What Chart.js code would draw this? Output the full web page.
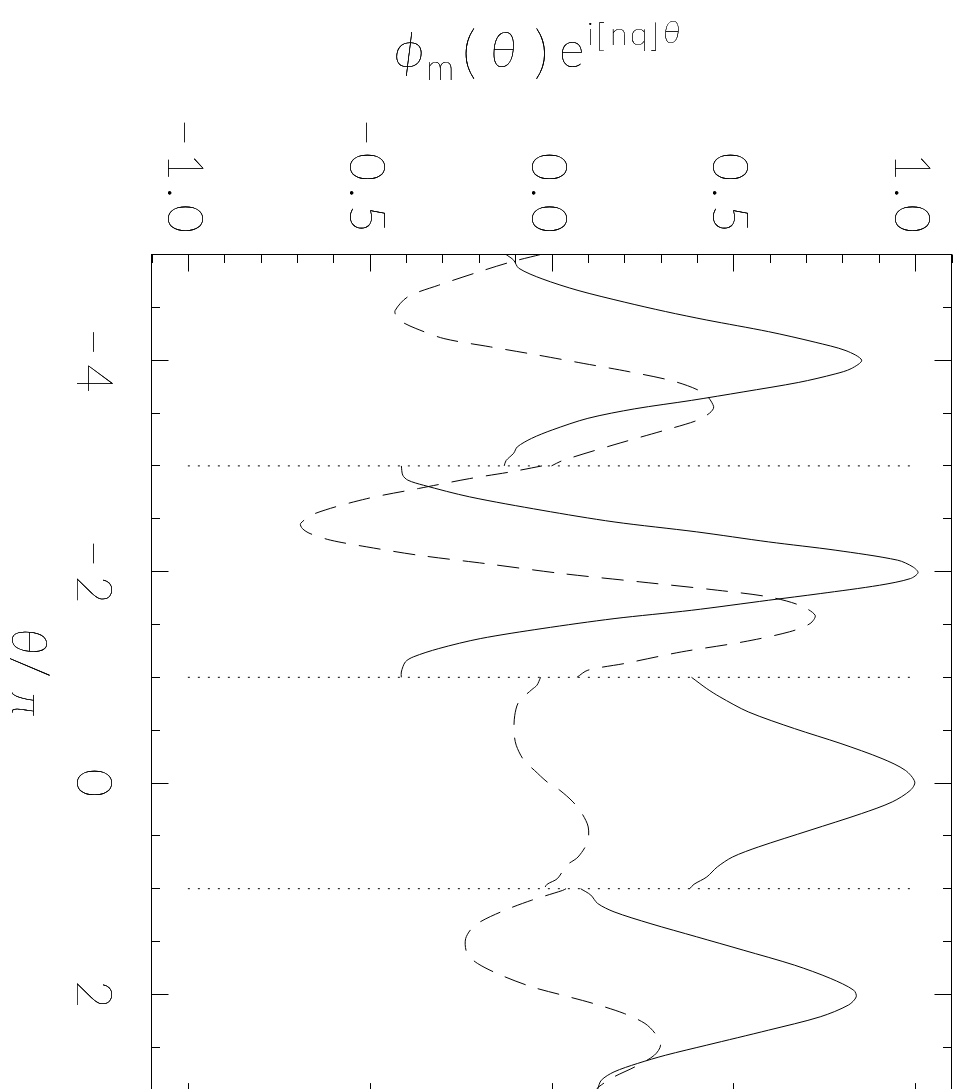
<!DOCTYPE html>
<html>
<head>
<meta charset="utf-8">
<script src="https://cdn.jsdelivr.net/npm/chart.js@4.4.1/dist/chart.umd.min.js"></script>
<style>
  html, body { margin: 0; padding: 0; overflow: hidden; background: #fff; width: 958px; height: 1089px; }
  #wrap { position: absolute; left: 0; top: 0; width: 958px; height: 1110px; }
  canvas { display: block; }
</style>
</head>
<body>
<div id="wrap"><canvas id="c" width="958" height="1110"></canvas></div>
<script>
// Eigenfunction phi_m(theta) * exp(i[nq]theta), four 2*pi sections along theta/pi.
// Each point is [theta/pi, value]. Solid = real part, dashed = imaginary part.
const realPart1 = [[-5.0,-0.125],[-4.946,-0.104],[-4.87,-0.09],[-4.77,-0.026],[-4.66,0.073],[-4.55,0.20],
  [-4.46,0.314],[-4.38,0.427],[-4.27,0.597],[-4.17,0.725],[-4.09,0.81],[-4.0,0.853],[-3.92,0.824],
  [-3.87,0.78],[-3.79,0.68],[-3.70,0.527],[-3.62,0.385],[-3.54,0.229],[-3.45,0.10],[-3.34,0.002],
  [-3.26,-0.055],[-3.18,-0.094],[-3.12,-0.104],[-3.05,-0.125],[-3.0,-0.13]];
const imagPart1 = [[-5.0,-0.03],[-4.93,-0.111],[-4.84,-0.196],[-4.71,-0.31],[-4.60,-0.395],[-4.47,-0.43],
  [-4.41,-0.426],[-4.36,-0.41],[-4.30,-0.373],[-4.205,-0.296],[-4.126,-0.168],[-4.05,-0.04],[-3.97,0.087],
  [-3.89,0.215],[-3.795,0.342],[-3.685,0.42],[-3.56,0.446],[-3.50,0.435],[-3.43,0.40],[-3.34,0.314],
  [-3.20,0.172],[-3.05,0.03],[-3.0,0.0]];

const realPart2 = [[-3.0,-0.413],[-2.912,-0.409],[-2.865,-0.395],[-2.817,-0.352],[-2.707,-0.225],[-2.58,-0.026],
  [-2.47,0.172],[-2.376,0.399],[-2.281,0.597],[-2.202,0.782],[-2.108,0.952],[-2.044,0.994],[-1.99,1.008],
  [-1.934,0.987],[-1.871,0.902],[-1.792,0.739],[-1.729,0.597],[-1.634,0.385],[-1.555,0.172],[-1.461,-0.026],
  [-1.366,-0.196],[-1.272,-0.31],[-1.193,-0.38],[-1.145,-0.402],[-1.05,-0.413],[-1.0,-0.413]];
const imagPart2 = [[-3.0,-0.026],[-2.944,-0.111],[-2.88,-0.225],[-2.786,-0.366],[-2.69,-0.508],[-2.55,-0.65],
  [-2.455,-0.69],[-2.407,-0.685],[-2.36,-0.664],[-2.297,-0.607],[-2.234,-0.508],[-2.155,-0.366],[-2.076,-0.182],
  [-1.981,0.03],[-1.903,0.243],[-1.824,0.456],[-1.761,0.597],[-1.682,0.682],[-1.587,0.725],[-1.508,0.711],
  [-1.43,0.654],[-1.335,0.527],[-1.24,0.357],[-1.13,0.20],[-1.067,0.10],[-1.0,0.07]];

const realPart3 = [[-1.0,0.385],[-0.893,0.427],[-0.815,0.463],[-0.673,0.541],[-0.515,0.668],[-0.373,0.796],
  [-0.231,0.909],[-0.12,0.973],[-0.01,0.999],[0.069,0.987],[0.179,0.937],[0.29,0.852],[0.447,0.711],
  [0.605,0.569],[0.70,0.498],[0.794,0.456],[0.889,0.427],[0.958,0.392],[1.0,0.38]];
const imagPart3 = [[-1.0,-0.03],[-0.925,-0.04],[-0.884,-0.054],[-0.767,-0.09],[-0.641,-0.101],[-0.483,-0.103],
  [-0.357,-0.097],[-0.215,-0.076],[-0.12,-0.047],[-0.01,-0.012],[0.069,0.023],[0.179,0.059],[0.29,0.084],
  [0.416,0.101],[0.558,0.099],[0.70,0.073],[0.778,0.042],[0.905,0.016],[0.958,-0.012],[1.0,-0.02]];

const realPart4 = [[1.0,0.08],[1.06,0.108],[1.14,0.127],[1.219,0.172],[1.329,0.271],[1.455,0.399],[1.581,0.527],
  [1.723,0.668],[1.85,0.768],[1.96,0.831],[2.023,0.838],[2.10,0.817],[2.212,0.739],[2.338,0.597],[2.48,0.427],
  [2.575,0.314],[2.654,0.236],[2.733,0.172],[2.812,0.137],[2.897,0.127],[2.95,0.122]];
const imagPart4 = [[1.0,0.04],[1.017,0.03],[1.108,-0.054],[1.219,-0.139],[1.345,-0.21],[1.471,-0.236],
  [1.613,-0.232],[1.708,-0.203],[1.818,-0.139],[1.929,-0.054],[2.007,0.03],[2.086,0.115],[2.181,0.20],
  [2.275,0.257],[2.37,0.285],[2.48,0.30],[2.575,0.283],[2.686,0.229],[2.78,0.172],[2.875,0.13],[2.95,0.11]];

// Section boundaries (dotted) and their extent in value
const boundaryTheta = [-3, -1, 1];
const boundarySpan = [-1, 1];

// Axis ticks
const valueTicks = [-1.0, -0.5, 0.0, 0.5, 1.0];
const valueTickLabels = ['\u22121.0', '\u22120.5', '0.0', '0.5', '1.0'];
const valueMinorStep = 0.1;
const thetaTicks = [-4, -2, 0, 2];
const thetaTickLabels = ['\u22124', '\u22122', '0', '2'];
const thetaMinorStep = 0.5;

const FONT = 'Lato, Roboto, "DejaVu Sans", sans-serif';
const WEIGHT = '100';

const toXY = seg => seg.map(([t, v]) => ({ x: v, y: t }));
const solid = seg => ({ data: toXY(seg), borderColor: '#000', borderWidth: 1, pointRadius: 0, showLine: true, tension: 0.3, fill: false });
const dashed = seg => ({ data: toXY(seg), borderColor: '#000', borderWidth: 1, borderDash: [22, 13], pointRadius: 0, showLine: true, tension: 0.3, fill: false });
const dotted = t => ({ data: boundarySpan.map(v => ({ x: v, y: t })), borderColor: '#000', borderWidth: 1, borderDash: [2, 8], pointRadius: 0, showLine: true, tension: 0, fill: false });

// Hairline glyphs are filled a few times so their thin strokes read as solid black
function ink(ctx, s, x, y) {
  for (let k = 0; k < 3; k++) ctx.fillText(s, x, y);
}
function spacedWidth(ctx, s, sp) {
  let w = 0;
  for (const ch of s) w += ctx.measureText(ch).width;
  return w + sp * (Math.max(0, [...s].length - 1));
}
function drawSpaced(ctx, s, x, y, sp) {
  for (const ch of s) { ink(ctx, ch, x, y); x += ctx.measureText(ch).width + sp; }
  return x;
}

const framePlugin = {
  id: 'frameAndLabels',
  afterDraw(chart) {
    const { ctx, chartArea: a, scales } = chart;
    const xs = scales.x, ys = scales.y;
    ctx.save();
    ctx.strokeStyle = '#000';
    ctx.lineWidth = 1;
    ctx.setLineDash([]);
    ctx.strokeRect(a.left, a.top, a.right - a.left, a.bottom - a.top);

    const MAJ = 17, MIN = 8.5;
    const px = v => Math.round(xs.getPixelForValue(v)) + 0.5;
    const py = t => Math.round(ys.getPixelForValue(t) - 0.5) + 0.5;
    ctx.beginPath();
    // value ticks on top / bottom
    for (let k = Math.ceil(xs.min / valueMinorStep - 1e-6); k * valueMinorStep <= xs.max + 1e-9; k++) {
      const v = k * valueMinorStep;
      const major = valueTicks.some(m => Math.abs(m - v) < 1e-6);
      const len = major ? MAJ : MIN;
      const x = px(v);
      ctx.moveTo(x, a.top); ctx.lineTo(x, a.top + len);
      ctx.moveTo(x, a.bottom); ctx.lineTo(x, a.bottom - len);
    }
    // theta ticks on left / right
    for (let k = Math.ceil(ys.min / thetaMinorStep - 1e-6); k * thetaMinorStep <= ys.max + 1e-9; k++) {
      const t = k * thetaMinorStep;
      const major = thetaTicks.some(m => Math.abs(m - t) < 1e-6);
      const len = major ? MAJ : MIN;
      const y = py(t);
      ctx.moveTo(a.left, y); ctx.lineTo(a.left + len, y);
      ctx.moveTo(a.right, y); ctx.lineTo(a.right - len, y);
    }
    ctx.stroke();

    ctx.fillStyle = '#000';
    ctx.textBaseline = 'alphabetic';
    ctx.textAlign = 'left';
    ctx.font = `${WEIGHT} 49px ${FONT}`;
    // value tick labels, turned to read downward, ending just above the frame
    valueTicks.forEach((v, i) => {
      const s = valueTickLabels[i];
      const w = spacedWidth(ctx, s, 6);
      ctx.save();
      ctx.translate(xs.getPixelForValue(v), 0);
      ctx.rotate(Math.PI / 2);
      drawSpaced(ctx, s, 233 - w, 20, 6);
      ctx.restore();
    });
    // theta tick labels, same orientation, centred on their ticks
    thetaTicks.forEach((t, i) => {
      const s = thetaTickLabels[i];
      const w = spacedWidth(ctx, s, 8);
      ctx.save();
      ctx.rotate(Math.PI / 2);
      drawSpaced(ctx, s, ys.getPixelForValue(t) - w / 2, -77, 8);
      ctx.restore();
    });

    // theta axis title: theta / pi
    ctx.save();
    ctx.rotate(Math.PI / 2);
    ctx.font = `italic ${WEIGHT} 49px ${FONT}`;
    ink(ctx, '\u03B8', 628, -12);
    ctx.font = `${WEIGHT} 52px ${FONT}`;
    ink(ctx, '/', 656, -12);
    ctx.font = `italic ${WEIGHT} 46px ${FONT}`;
    ink(ctx, '\u03C0', 692, -12);
    ctx.restore();

    // value axis title: phi_m(theta) e^{i[nq]theta}
    const pieces = [
      ['\u03D5', `italic ${WEIGHT} 50px ${FONT}`, 394, 67],
      ['m',      `${WEIGHT} 36px ${FONT}`,        426, 80],
      ['(',      `${WEIGHT} 58px ${FONT}`,        462, 72],
      ['\u03B8', `italic ${WEIGHT} 49px ${FONT}`, 490, 67],
      [')',      `${WEIGHT} 58px ${FONT}`,        534, 72],
      ['e',      `${WEIGHT} 49px ${FONT}`,        559, 67],
      ['i',      `${WEIGHT} 32px ${FONT}`,        587, 45],
      ['[',      `${WEIGHT} 32px ${FONT}`,        596, 47],
      ['n',      `${WEIGHT} 32px ${FONT}`,        610, 45],
      ['q',      `${WEIGHT} 32px ${FONT}`,        630, 45],
      [']',      `${WEIGHT} 32px ${FONT}`,        650, 47],
      ['\u03B8', `italic ${WEIGHT} 32px ${FONT}`, 663, 43]
    ];
    for (const [s, f, x, base] of pieces) {
      ctx.font = f;
      ink(ctx, s, x, base);
    }
    ctx.restore();
  }
};

new Chart(document.getElementById('c'), {
  type: 'scatter',
  data: {
    datasets: [
      solid(realPart1), dashed(imagPart1),
      solid(realPart2), dashed(imagPart2),
      solid(realPart3), dashed(imagPart3),
      solid(realPart4), dashed(imagPart4),
      ...boundaryTheta.map(dotted)
    ]
  },
  options: {
    responsive: false,
    animation: false,
    devicePixelRatio: 1,
    layout: { padding: { left: 151.5, right: 6.5, top: 254.5, bottom: 9.9 } },
    plugins: { legend: { display: false }, tooltip: { enabled: false }, title: { display: false } },
    scales: {
      x: { type: 'linear', min: -1.1, max: 1.1, display: false },
      y: { type: 'linear', min: -5, max: 3, reverse: true, display: false }
    }
  },
  plugins: [framePlugin]
});
</script>
</body>
</html>
